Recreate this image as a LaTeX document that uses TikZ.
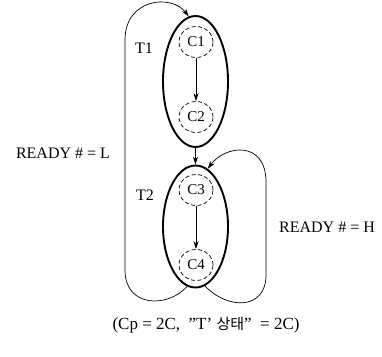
\documentclass[tikz,border=0pt]{standalone}
\usepackage{fontspec}
\setmainfont{Liberation Serif}
\newfontfamily\kor{Noto Sans CJK KR}
\usetikzlibrary{shapes.geometric,arrows.meta}
\begin{document}
\begin{tikzpicture}[x=1pt,y=-1pt,
  taskbox/.style={ellipse,draw,line width=1.9pt,inner sep=0pt},
  cbox/.style={ellipse,draw,dashed,dash pattern=on 4pt off 2.5pt,line width=0.7pt,minimum width=34pt,minimum height=31pt,inner sep=0pt,font=\fontsize{15}{17}\selectfont},
  lbl/.style={font=\fontsize{16}{18}\selectfont,inner sep=0pt},
  conn/.style={line width=0.7pt,-{Stealth[length=8pt,width=5pt]}}]
\useasboundingbox (0,0) rectangle (382,356);
\node[taskbox,minimum width=65pt,minimum height=131pt] (T1) at (195.5,81.5) {};
\node[taskbox,minimum width=65pt,minimum height=122pt] (T2) at (195.5,226.5) {};
\node[cbox] (C1) at (196,42) {C1};
\node[cbox] (C2) at (196,117) {C2};
\node[cbox] (C3) at (196,190) {C3};
\node[cbox] (C4) at (196,265) {C4};
\draw[conn] (C1) -- (C2);
\draw[conn] (C3) -- (C4);
\draw[conn] (T1.south) -- (T2.north);
\node[lbl] (t1) at (144,48) {T1};
\node[lbl] (t2) at (145,195) {T2};
\node[lbl] (rl) at (63,153) {READY \# = L};
\node[lbl] (rh) at (327,227) {READY \# = H};
\draw[conn] (T2.262) .. controls (168,308) and (125,308) .. (125,270) -- (125,40)
  .. controls (125,-2) and (172,-6) .. (T1.96);
\draw[conn] (T2.279) .. controls (228,310) and (266,310) .. (266,275) -- (266,182)
  .. controls (266,140) and (225,145) .. (T2.78);
\node[lbl,font=\fontsize{17}{19}\selectfont] (cap) at (206,325) {(Cp = 2C,\ \ "T' {\kor\fontsize{15}{18}\selectfont 상태}" \ = 2C)};
\end{tikzpicture}
\end{document}
